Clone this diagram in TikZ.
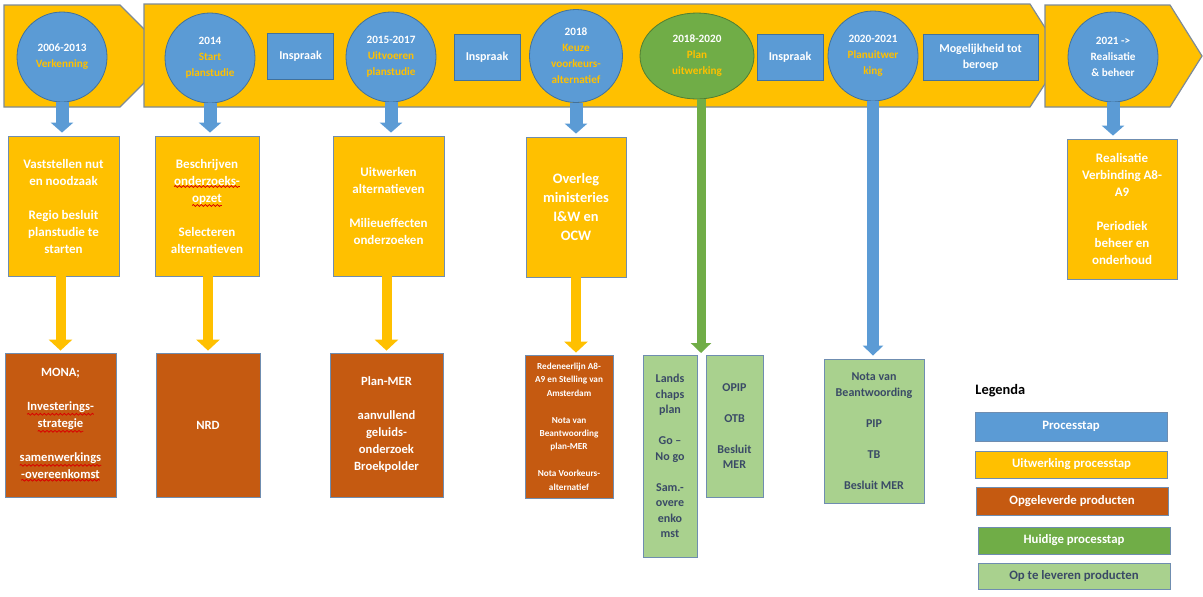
\documentclass[tikz,border=0pt]{standalone}
\usepackage{fontspec}
\setmainfont{Carlito}
\usetikzlibrary{arrows.meta,shapes.geometric,decorations.pathmorphing}
\definecolor{blauw}{HTML}{5B9BD5}
\definecolor{blauwrand}{HTML}{41719C}
\definecolor{geel}{HTML}{FFC000}
\definecolor{bruin}{HTML}{C55A11}
\definecolor{groen}{HTML}{70AD47}
\definecolor{groenrand}{HTML}{507E32}
\definecolor{lichtgroen}{HTML}{A9D18E}
\definecolor{rand}{HTML}{6F8DB0}
\definecolor{bandrand}{HTML}{7D8A96}
\definecolor{donker}{HTML}{3A4A66}
\newcommand\fasenaam[1]{\textcolor{geel}{#1}}
\newcommand\kronkel[1]{\tikz[baseline=(w.base)]{\node[shape=rectangle,draw=none,fill=none,inner sep=0pt,outer sep=0pt,minimum width=0pt,minimum height=0pt,anchor=base](w){#1};
	\draw[red!85!black,line width=0.4pt,decorate,decoration={snake,amplitude=0.45pt,segment length=2pt}]([yshift=-0.7pt]w.south west)--([yshift=-0.7pt]w.south east);}}
\tikzset{%
	band/.style = {draw=bandrand,fill=geel,line width=0.6pt},
	fase/.style = {circle,draw=blauwrand,fill=blauw,minimum size=45pt,inner sep=0,align=center,text=white,font=\fontsize{5.6}{8}\selectfont\bfseries},
	huidig/.style = {ellipse,draw=groenrand,fill=groen,minimum width=57pt,minimum height=43pt,inner sep=0,align=center,text=white,font=\fontsize{5.6}{8}\selectfont\bfseries},
	inspraak/.style = {rectangle,draw=blauwrand,fill=blauw,minimum width=33pt,minimum height=23pt,inner sep=0,align=center,text=white,font=\fontsize{6}{8}\selectfont\bfseries},
	maat/.style 2 args = {minimum width=#1,minimum height=#2},
	uitwerk/.style = {rectangle,draw=rand,fill=geel,inner sep=0,align=center,text=white,font=\fontsize{6.5}{8.5}\selectfont\bfseries},
	product/.style = {rectangle,draw=rand,fill=bruin,inner sep=0,align=center,text=white,font=\fontsize{6.3}{8.5}\selectfont\bfseries},
	televeren/.style = {rectangle,draw=rand,fill=lichtgroen,inner sep=0,align=center,text=donker,font=\fontsize{6}{7.75}\selectfont\bfseries},
	legenda/.style = {rectangle,draw=rand,inner sep=0,minimum width=96pt,align=center,font=\fontsize{6.4}{8}\selectfont\bfseries},
	pijlblauw/.style = {draw=blauw,line width=6.5pt,-{Triangle[width=11pt,length=5pt]},shorten >=1.5pt},
	pijlgeel/.style = {draw=geel,line width=5pt,-{Triangle[width=11.5pt,length=5.5pt]},shorten >=1pt},
	pijlgroen/.style = {draw=groen,line width=4.5pt,-{Triangle[width=10pt,length=5pt]}}%
}
\begin{document}
\begin{tikzpicture}[x=0.5pt,y=-0.5pt]
			
			\useasboundingbox (0,0) rectangle (1203,596);
			\draw[band] (4,5) -- (120,5) -- (171,56) -- (120,107) -- (4,107) -- cycle;
			\draw[band] (144,4) -- (1030,4) -- (1063,56) -- (1030,107) -- (144,107) -- cycle;
			\draw[band] (1045,5) -- (1170,5) -- (1202,56) -- (1170,107) -- (1045,107) -- cycle;
			
			\node(c1)[fase] at (62,57) {2006-2013\\\fasenaam{Verkenning}};
			\node(c2)[fase] at (210,58) {2014\\\fasenaam{Start}\\\fasenaam{planstudie}};
			\node(c3)[fase] at (391,57) {2015-2017\\\fasenaam{Uitvoeren}\\\fasenaam{planstudie}};
			\node(c4)[fase,minimum size=46.5pt] at (576,56) {2018\\\fasenaam{Keuze}\\\fasenaam{voorkeurs-}\\\fasenaam{alternatief}};
			\node(c5)[huidig] at (697,56) {2018-2020\\\fasenaam{Plan}\\\fasenaam{uitwerking}};
			\node(c6)[fase] at (873,56) {2020-2021\\\fasenaam{Planuitwer}\\\fasenaam{king}};
			\node(c7)[fase] at (1113,57) {2021 ->\\Realisatie\\\& beheer};
			
			\node(i1)[inspraak] at (300.5,56) {Inspraak};
			\node(i2)[inspraak] at (487,57) {Inspraak};
			\node(i3)[inspraak] at (790,57) {Inspraak};
			\node(beroep)[inspraak,minimum width=57.5pt] at (980.5,57) {Mogelijkheid tot\\beroep};
			
			\node(y1)[uitwerk,maat={55.5pt}{70pt}] at (63.5,206) {Vaststellen nut\\en noodzaak\\[8.5pt]Regio besluit\\planstudie te\\starten};
			\node(y2)[uitwerk,maat={52pt}{70pt}] at (207,206) {Beschrijven\\\kronkel{onderzoeks-}\\\kronkel{opzet}\\[8.5pt]Selecteren\\alternatieven};
			\node(y3)[uitwerk,maat={55.5pt}{70pt}] at (388.5,206) {Uitwerken\\alternatieven\\[8.5pt]Milieueffecten\\onderzoeken};
			\node(y4)[uitwerk,maat={50pt}{70pt},font=\fontsize{7.2}{9.5}\selectfont\bfseries] at (576,207) {Overleg\\ministeries\\I\&W en\\OCW};
			\node(y5)[uitwerk,maat={55pt}{70pt}] at (1122,209) {Realisatie\\Verbinding A8-\\A9\\[8.5pt]Periodiek\\beheer en\\onderhoud};
			
			\node(b1)[product,maat={55.5pt}{72pt}] at (60.5,425) {MONA;\\[8.5pt]\kronkel{Investerings-}\\\kronkel{strategie}\\[8.5pt]\kronkel{samenwerkings}\\\kronkel{-overeenkomst}};
			\node(b2)[product,maat={52pt}{72pt}] at (208,425) {NRD};
			\node(b3)[product,maat={56.5pt}{72pt}] at (386.5,425) {Plan-MER\\[8.5pt]aanvullend\\geluids-\\onderzoek\\Broekpolder};
			\node(b4)[product,maat={44pt}{71.5pt},font=\fontsize{4.6}{6.7}\selectfont\bfseries] at (569,426.5) {Redeneerlijn A8-\\A9 en Stelling van\\Amsterdam\\[6.7pt]Nota van\\Beantwoording\\plan-MER\\[6.7pt]Nota Voorkeurs-\\alternatief};
			
			\node(g1)[televeren,maat={27pt}{101pt}] at (670,456) {Lands\\chaps\\plan\\[7.75pt]Go –\\No go\\[7.75pt]Sam.-\\overe\\enko\\mst};
			\node(g2)[televeren,maat={28.5pt}{71pt}] at (734.5,426) {OPIP\\[7.75pt]OTB\\[7.75pt]Besluit\\MER};
			\node(g3)[televeren,maat={50pt}{72pt}] at (874,431) {Nota van\\Beantwoording\\[7.75pt]PIP\\[7.75pt]TB\\[7.75pt]Besluit MER};
			
			\node(leg)[anchor=west,inner sep=0,font=\fontsize{7.2}{9}\selectfont\bfseries] at (975,391) {Legenda};
			\node(l1)[legenda,fill=blauw,text=white,minimum height=14.5pt] at (1071,426.5) {Processtap};
			\node(l2)[legenda,fill=geel,text=white,minimum height=13.5pt] at (1071.5,464.5) {Uitwerking processtap};
			\node(l3)[legenda,fill=bruin,text=white,minimum height=14pt] at (1072,501) {Opgeleverde producten};
			\node(l4)[legenda,fill=groen,text=white,minimum height=13.5pt] at (1074,540.5) {Huidige processtap};
			\node(l5)[legenda,fill=lichtgroen,text=donker,minimum height=13pt] at (1074,576) {Op te leveren producten};
			
			\draw[pijlblauw] (c1.south) -- (c1.south |- y1.north);
			\draw[pijlblauw] (c2.south) -- (c2.south |- y2.north);
			\draw[pijlblauw] (c3.south) -- (c3.south |- y3.north);
			\draw[pijlblauw] (c4.south) -- (c4.south |- y4.north);
			\draw[pijlblauw,line width=6pt,-{Triangle[width=10pt,length=5pt]}] (c6.south) -- (c6.south |- g3.north);
			\draw[pijlblauw] (c7.south) -- (c7.south |- y5.north);
			\coordinate(gpunt) at (701,353);
			\draw[pijlgroen] (c5.south -| gpunt) -- (gpunt);
			
			\draw[pijlgeel] (b1.north |- y1.south) -- (b1.north);
			\draw[pijlgeel] (b2.north |- y2.south) -- (b2.north);
			\draw[pijlgeel] (b3.north |- y3.south) -- (b3.north);
			\draw[pijlgeel] (y4.south) -- (y4.south |- b4.north);
			\end{tikzpicture}
\end{document}
